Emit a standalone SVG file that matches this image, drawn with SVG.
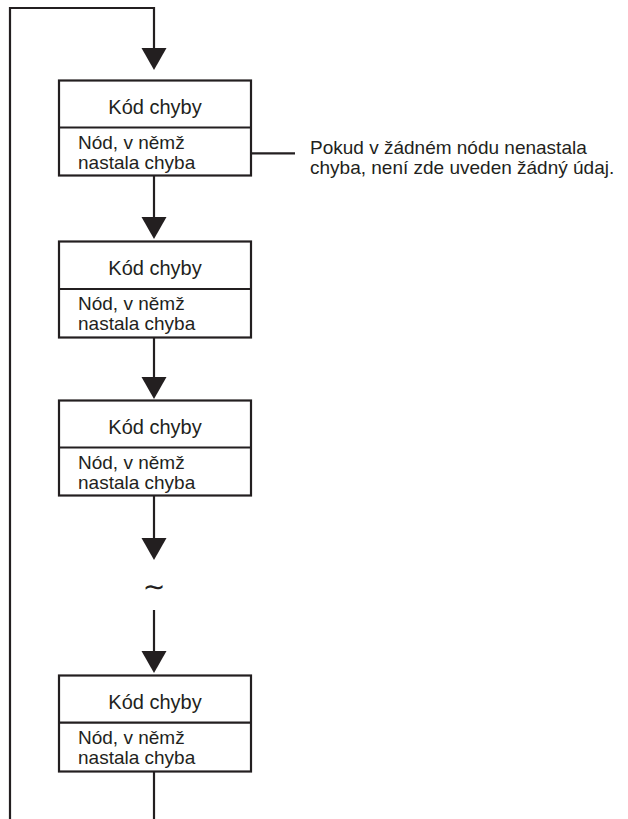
<svg xmlns="http://www.w3.org/2000/svg" xmlns:xlink="http://www.w3.org/1999/xlink" width="628" height="819" viewBox="0 0 628 819">
<style>
.box{fill:#fff;stroke:#231f20;stroke-width:2.2}
.ln{fill:none;stroke:#231f20;stroke-width:2.2}
.k{font-family:"Liberation Sans",Arial,sans-serif;font-size:20px;fill:#231f20;text-anchor:middle}
.t{font-family:"Liberation Sans",Arial,sans-serif;font-size:19px;fill:#231f20}
.a{font-family:"Liberation Sans",Arial,sans-serif;font-size:19px;fill:#231f20}
.ah{fill:#231f20}
</style>
<defs>
<polygon id="head" points="-12.5,0 12.5,0 0,22"/>
</defs>
<g id="connectors">
<polyline class="ln" points="154,48 154,8 10,8 10,819"/>
<use xlink:href="#head" href="#head" class="ah" x="154" y="48"/>
<line class="ln" x1="154" y1="176" x2="154" y2="217"/>
<use xlink:href="#head" href="#head" class="ah" x="154" y="217"/>
<line class="ln" x1="154" y1="338" x2="154" y2="377"/>
<use xlink:href="#head" href="#head" class="ah" x="154" y="377"/>
<line class="ln" x1="154" y1="496" x2="154" y2="538"/>
<use xlink:href="#head" href="#head" class="ah" x="154" y="538"/>
<line class="ln" x1="154" y1="610" x2="154" y2="651"/>
<use xlink:href="#head" href="#head" class="ah" x="154" y="651"/>
<line class="ln" x1="154" y1="771" x2="154" y2="819"/>
<line class="ln" x1="251" y1="153.3" x2="295" y2="153.3"/>
</g>
<g id="node1">
<rect class="box" x="59" y="80.5" width="192" height="95"/>
<line class="ln" x1="59" y1="127.5" x2="251" y2="127.5"/>
<text class="k" x="155" y="114">Kód chyby</text>
<text class="t" x="78" y="148.5">Nód, v němž</text>
<text class="t" x="78" y="168.5">nastala chyba</text>
</g>
<g id="node2">
<rect class="box" x="59" y="241.5" width="192" height="96"/>
<line class="ln" x1="59" y1="289" x2="251" y2="289"/>
<text class="k" x="155" y="275">Kód chyby</text>
<text class="t" x="78" y="309.5">Nód, v němž</text>
<text class="t" x="78" y="329.5">nastala chyba</text>
</g>
<g id="node3">
<rect class="box" x="59" y="400.5" width="192" height="95"/>
<line class="ln" x1="59" y1="447.5" x2="251" y2="447.5"/>
<text class="k" x="155" y="434">Kód chyby</text>
<text class="t" x="78" y="468.5">Nód, v němž</text>
<text class="t" x="78" y="488.5">nastala chyba</text>
</g>
<g id="node4">
<rect class="box" x="59" y="675.5" width="192" height="96"/>
<line class="ln" x1="59" y1="722.7" x2="251" y2="722.7"/>
<text class="k" x="155" y="709">Kód chyby</text>
<text class="t" x="78" y="743.5">Nód, v němž</text>
<text class="t" x="78" y="763.5">nastala chyba</text>
</g>
<g id="ellipsis">
<text x="154" y="596" text-anchor="middle" font-family="'DejaVu Sans',sans-serif" font-size="27" fill="#231f20">∼</text>
</g>
<g id="note">
<text class="a" x="310" y="154">Pokud v žádném nódu nenastala</text>
<text class="a" x="310" y="173.5">chyba, není zde uveden žádný údaj.</text>
</g>
</svg>
